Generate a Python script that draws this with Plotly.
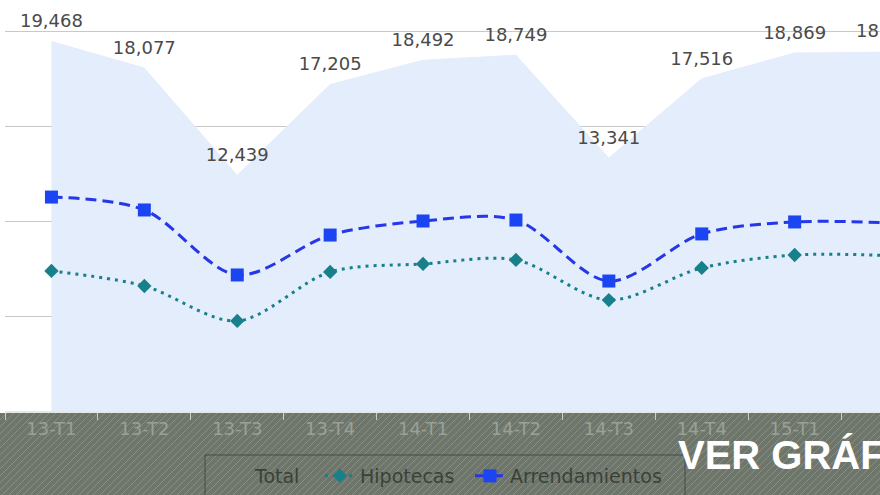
import plotly.graph_objects as go

# ---- data ----
categories = ["13-T1", "13-T2", "13-T3", "13-T4", "14-T1", "14-T2",
              "14-T3", "14-T4", "15-T1", "15-T2"]
total = [19468, 18077, 12439, 17205, 18492, 18749, 13341, 17516, 18869, 18905]
hipotecas = [7370, 6580, 4740, 7320, 7740, 7950, 5840, 7530, 8210, 8180]
arrendamientos = [11260, 10580, 7160, 9260, 10000, 10050, 6840, 9320, 9950, 9900]
total_labels = [f"{v:,}" for v in total]
banner_text = "VER GRÁFICO"

W, H = 880, 495
MT = 0
plot_h = H - MT
y_axis_bottom_px = 411
ydom0 = (H - y_axis_bottom_px) / plot_h
px_per_unit = 95 / 5000
y_top = (y_axis_bottom_px - MT) / px_per_unit

# x axis scale: category band width in px, left edge of plot area
band_px = 92.9
x_left_px = 5
x_lo = -0.5
x_hi = x_lo + (W - x_left_px) / band_px

FONT = "DejaVu Sans"

fig = go.Figure()

# Total area
fig.add_trace(go.Scatter(
    x=categories, y=total, mode="lines", fill="tozeroy",
    fillcolor="#e3edfb", line=dict(width=0, color="rgba(0,0,0,0)"),
    showlegend=False, hoverinfo="skip", name="Total"))
# Total labels (invisible marker pushes label up)
fig.add_trace(go.Scatter(
    x=categories, y=total, mode="markers+text", text=total_labels,
    textposition="top center", cliponaxis=False,
    marker=dict(size=13, color="rgba(0,0,0,0)"),
    textfont=dict(family=FONT, size=18, color="#4a4a4a"),
    showlegend=False, hoverinfo="skip"))
# legend entry for Total (no visible symbol)
fig.add_trace(go.Scatter(
    x=[None], y=[None], mode="lines", name="Total", legend="legend",
    line=dict(color="rgba(0,0,0,0)", width=0)))

fig.add_trace(go.Scatter(
    x=categories, y=hipotecas, mode="lines+markers", name="Hipotecas", legend="legend2",
    line=dict(color="#17808a", width=3, dash="3px,5px", shape="spline", smoothing=0.9),
    marker=dict(symbol="diamond", size=11, color="#17808a"),
    cliponaxis=False))
fig.add_trace(go.Scatter(
    x=categories, y=arrendamientos, mode="lines+markers", name="Arrendamientos", legend="legend3",
    line=dict(color="#2537e6", width=3, dash="11px,6px", shape="spline", smoothing=0.9),
    marker=dict(symbol="square", size=13, color="#1b45f2"),
    cliponaxis=False))

# banner background + hatch (decoration)
band_top_px = 413
b_y1 = (H - band_top_px) / plot_h
shapes = [dict(type="rect", xref="paper", yref="paper", x0=-0.01, x1=1.01,
               y0=-0.01, y1=b_y1, fillcolor="#6e766b", line=dict(width=0),
               layer="below")]
band_h = H - band_top_px
path = ""
px = -band_h
while px < W + 10:
    xa, ya = px / W, 0.0
    xb, yb = (px + band_h) / W, b_y1
    path += f"M{xa:.4f},{ya:.4f} L{xb:.4f},{yb:.4f} "
    px += 7
shapes.append(dict(type="path", xref="paper", yref="paper", path=path,
                   line=dict(color="rgba(205,212,200,0.28)", width=1), layer="below"))
# legend frame
shapes.append(dict(type="rect", xref="paper", yref="paper",
                   x0=205 / W, x1=685 / W, y0=-0.05, y1=(H - 455) / plot_h,
                   line=dict(color="#454b43", width=1), fillcolor="rgba(0,0,0,0)",
                   layer="below"))

# label of the last (partly off-screen) category: placed via the axis scale
last_i = len(categories) - 1
last_x_paper = (x_left_px + (last_i - x_lo) * band_px) / W
annotations = [
    dict(text=total_labels[last_i], xref="paper", yref="y", x=last_x_paper,
         y=total[last_i], xanchor="center", yanchor="bottom", yshift=9,
         showarrow=False, font=dict(family=FONT, size=18, color="#4a4a4a")),
    dict(text=f"<b>{banner_text}</b>", xref="paper", yref="paper",
         x=676 / W, y=(H - 455) / plot_h, xanchor="left", yanchor="middle",
         showarrow=False, font=dict(family="Liberation Sans", size=40, color="white")),
]

leg_common = dict(orientation="h", xanchor="left", y=0.0, yanchor="bottom",
                  font=dict(family=FONT, size=19, color="#3b413a"),
                  bgcolor="rgba(0,0,0,0)", borderwidth=0)

fig.update_layout(
    width=W, height=H,
    margin=dict(l=0, r=0, t=MT, b=0),
    paper_bgcolor="white", plot_bgcolor="rgba(0,0,0,0)",
    font=dict(family=FONT, color="#555"),
    shapes=shapes,
    hovermode=False,
    legend=dict(x=215 / W, **leg_common),
    legend2=dict(x=320 / W, **leg_common),
    legend3=dict(x=470 / W, **leg_common),
    annotations=annotations,
)

fig.update_xaxes(
    type="category", domain=[x_left_px / W, 1],
    range=[x_lo, x_hi],
    showgrid=False, showline=True, linecolor="#e6e8e6", linewidth=2,
    ticks="outside", tickson="boundaries", ticklen=7, tickcolor="#c9cdc7",
    tickfont=dict(family=FONT, size=18, color="#9aa097"),
)
fig.update_yaxes(
    domain=[ydom0, 1], range=[0, y_top], dtick=5000,
    showgrid=True, gridcolor="#c8c8c8", gridwidth=1,
    showticklabels=False, zeroline=False, showline=False,
)

fig.write_html("out.html", config={"displayModeBar": False},
               post_script="document.body.style.margin='0';document.body.style.overflow='hidden';")
